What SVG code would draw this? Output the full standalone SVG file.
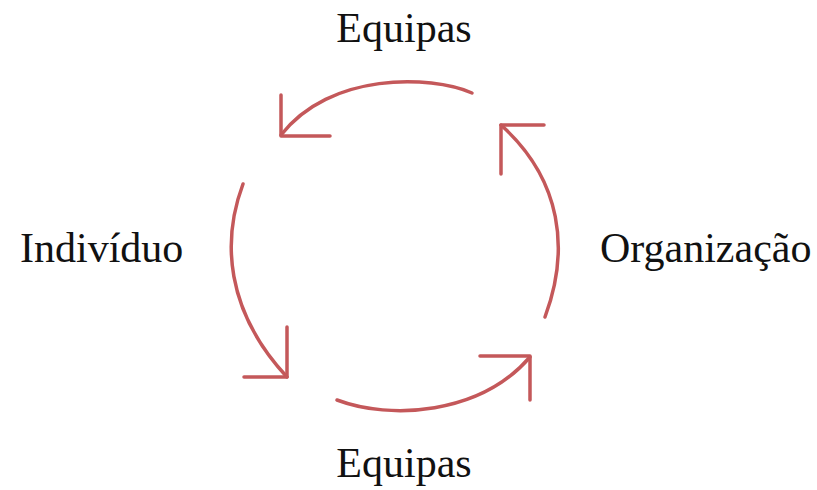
<svg xmlns="http://www.w3.org/2000/svg" width="817" height="490" viewBox="0 0 817 490">
<style>
.lbl{font-family:"Liberation Serif","Times New Roman",serif;font-size:42px;fill:#111}
.arr{fill:none;stroke:#c4585a;stroke-width:3.5;stroke-linecap:round;stroke-linejoin:round}
</style>
<rect width="817" height="490" fill="#fff"/>
<g id="connectors">
<g id="arrow-top"><path class="arr" d="M472,93 C430,75 330,72 281,135"/><path class="arr" d="M281,95 L281,136 L330,136"/></g>
<g id="arrow-right"><path class="arr" d="M545,317 C570,250 562,180 501,125"/><path class="arr" d="M501,174 L501,125 L544,125"/></g>
<g id="arrow-left"><path class="arr" d="M243,184 C222,240 225,310 287,377"/><path class="arr" d="M287,327 L287,377 L244,377"/></g>
<g id="arrow-bottom"><path class="arr" d="M337,400 C390,420 480,415 530,357"/><path class="arr" d="M480,356 L530,356 L530,400"/></g>
</g>
<g id="node-equipas-top"><text class="lbl" x="404" y="42" text-anchor="middle">Equipas</text></g>
<g id="node-individuo"><text class="lbl" x="20" y="262">Indivíduo</text></g>
<g id="node-organizacao"><text class="lbl" x="600" y="262">Organização</text></g>
<g id="node-equipas-bottom"><text class="lbl" x="404" y="477" text-anchor="middle">Equipas</text></g>
</svg>
